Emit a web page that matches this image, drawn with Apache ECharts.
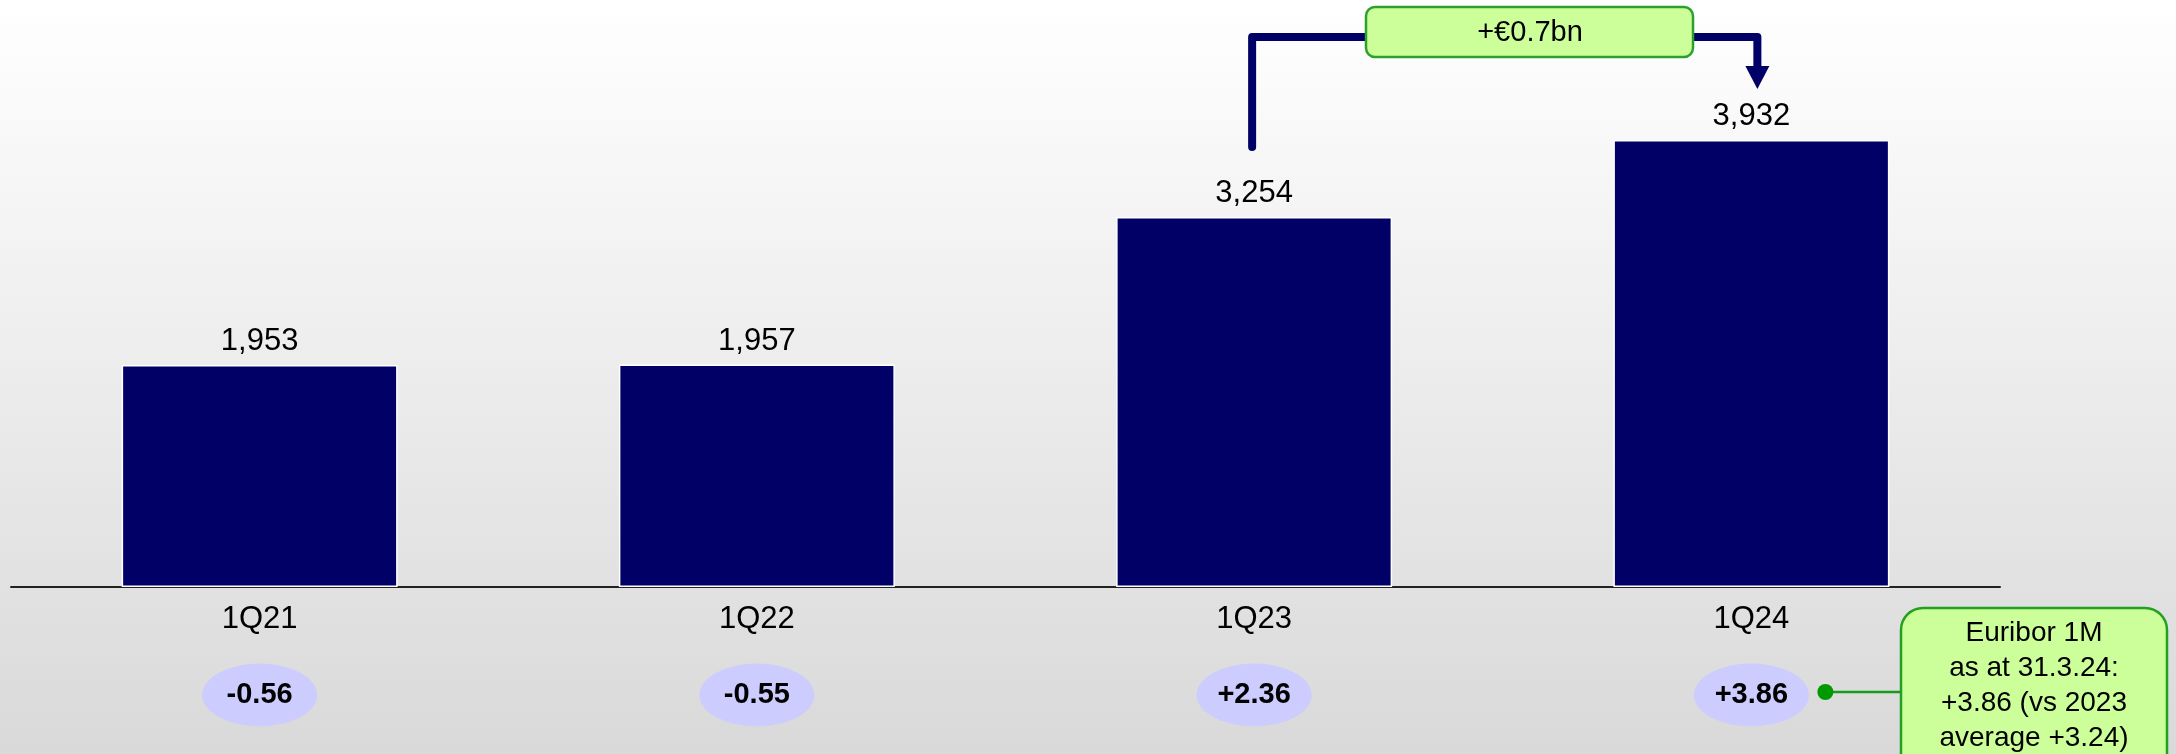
<!DOCTYPE html>
<html>
<head>
<meta charset="utf-8">
<script src="https://cdn.jsdelivr.net/npm/echarts@6/dist/echarts.min.js"></script>
<style>
html,body{margin:0;padding:0;}
#chart{width:2176px;height:754px;}
</style>
</head>
<body>
<div id="chart"></div>
<script>
const categories = ['1Q21', '1Q22', '1Q23', '1Q24'];
const values = [1953, 1957, 3254, 3932];
const euribor = [-0.56, -0.55, 2.36, 3.86];
const deltaLabel = '+€0.7bn';
const noteLines = ['Euribor 1M', 'as at 31.3.24:', '+3.86 (vs 2023', 'average +3.24)'];

const FONT = '"Liberation Sans", Arial, sans-serif';
const chart = echarts.init(document.getElementById('chart'), null, {renderer: 'canvas'});

function fmtSigned(v) { return (v > 0 ? '+' : '') + v.toFixed(2); }

const option = {
  animation: false,
  backgroundColor: {
    type: 'linear', x: 0, y: 0, x2: 0, y2: 1,
    colorStops: [{offset: 0, color: '#ffffff'}, {offset: 1, color: '#d9d9d9'}]
  },
  grid: [
    {left: 11, right: 176, top: 18.6, bottom: 167},
    {left: 11, right: 176, top: 660, height: 70}
  ],
  xAxis: [
    {
      type: 'category', gridIndex: 0, data: categories,
      axisLine: {lineStyle: {color: '#222', width: 2}},
      axisTick: {show: false},
      axisLabel: {color: '#000', fontSize: 31, fontFamily: FONT, margin: 17}
    },
    {
      type: 'category', gridIndex: 1, data: categories,
      axisLine: {show: false}, axisTick: {show: false}, axisLabel: {show: false}
    }
  ],
  yAxis: [
    {type: 'value', gridIndex: 0, min: 0, max: 5000, show: false, splitLine: {show: false}},
    {type: 'value', gridIndex: 1, min: 0, max: 1, show: false, splitLine: {show: false}}
  ],
  series: [
    {
      type: 'bar', xAxisIndex: 0, yAxisIndex: 0,
      data: values, barWidth: 276,
      itemStyle: {color: '#000066', borderColor: '#ffffff', borderWidth: 1.5},
      label: {
        show: true, position: 'top', distance: 8,
        color: '#000', fontSize: 31, fontFamily: FONT,
        formatter: p => p.value.toLocaleString('en-US')
      }
    },
    {
      type: 'scatter', xAxisIndex: 1, yAxisIndex: 1,
      data: euribor.map(v => ({value: 0.5, raw: v})),
      symbol: 'circle', symbolSize: [115, 63],
      itemStyle: {color: '#ccccff', opacity: 1},
      label: {
        show: true, position: 'inside', color: '#000',
        fontSize: 29, fontWeight: 'bold', fontFamily: FONT,
        formatter: p => fmtSigned(euribor[p.dataIndex])
      },
      z: 3
    }
  ]
};
chart.setOption(option);

// Annotations positioned from the axes
const x3 = chart.convertToPixel({xAxisIndex: 0}, categories[2]);
const x4 = chart.convertToPixel({xAxisIndex: 0}, categories[3]) + 6;
const yBar3Top = chart.convertToPixel({yAxisIndex: 0}, values[2]);
const lineY = 37;
const navy = '#000066';
const ell4 = chart.convertToPixel({xAxisIndex: 1, yAxisIndex: 1}, [categories[3], 0.5]);

const graphics = [
  {
    type: 'polyline', z: 10,
    shape: {points: [[x3 - 2, yBar3Top - 70], [x3 - 2, lineY], [x4, lineY], [x4, 68]]},
    style: {stroke: navy, lineWidth: 8, fill: null, lineJoin: 'round', lineCap: 'round'}
  },
  {
    type: 'polygon', z: 10,
    shape: {points: [[x4 - 12, 66], [x4 + 12, 66], [x4, 89]]},
    style: {fill: navy}
  },
  {
    type: 'rect', z: 11,
    shape: {x: 1366, y: 7, width: 327, height: 50, r: 9},
    style: {fill: '#ccff99', stroke: '#2ca02c', lineWidth: 2.5}
  },
  {
    type: 'text', z: 12,
    style: {x: 1530, y: 33, text: deltaLabel, fill: '#000', fontSize: 29, fontFamily: FONT,
            align: 'center', verticalAlign: 'middle'}
  },
  {
    type: 'line', z: 10,
    shape: {x1: ell4[0] + 74, y1: 692, x2: 1901, y2: 692},
    style: {stroke: '#1a9a1a', lineWidth: 2.5}
  },
  {
    type: 'circle', z: 11,
    shape: {cx: ell4[0] + 74, cy: 692, r: 8},
    style: {fill: '#009900'}
  },
  {
    type: 'rect', z: 11,
    shape: {x: 1901, y: 608, width: 266, height: 180, r: 22},
    style: {fill: '#ccff99', stroke: '#22a022', lineWidth: 2.5}
  }
];
noteLines.forEach((t, i) => {
  graphics.push({
    type: 'text', z: 12,
    style: {x: 2034, y: 633 + i * 35, text: t, fill: '#000', fontSize: 28, fontFamily: FONT,
            align: 'center', verticalAlign: 'middle'}
  });
});
chart.setOption({graphic: graphics});
</script>
</body>
</html>
